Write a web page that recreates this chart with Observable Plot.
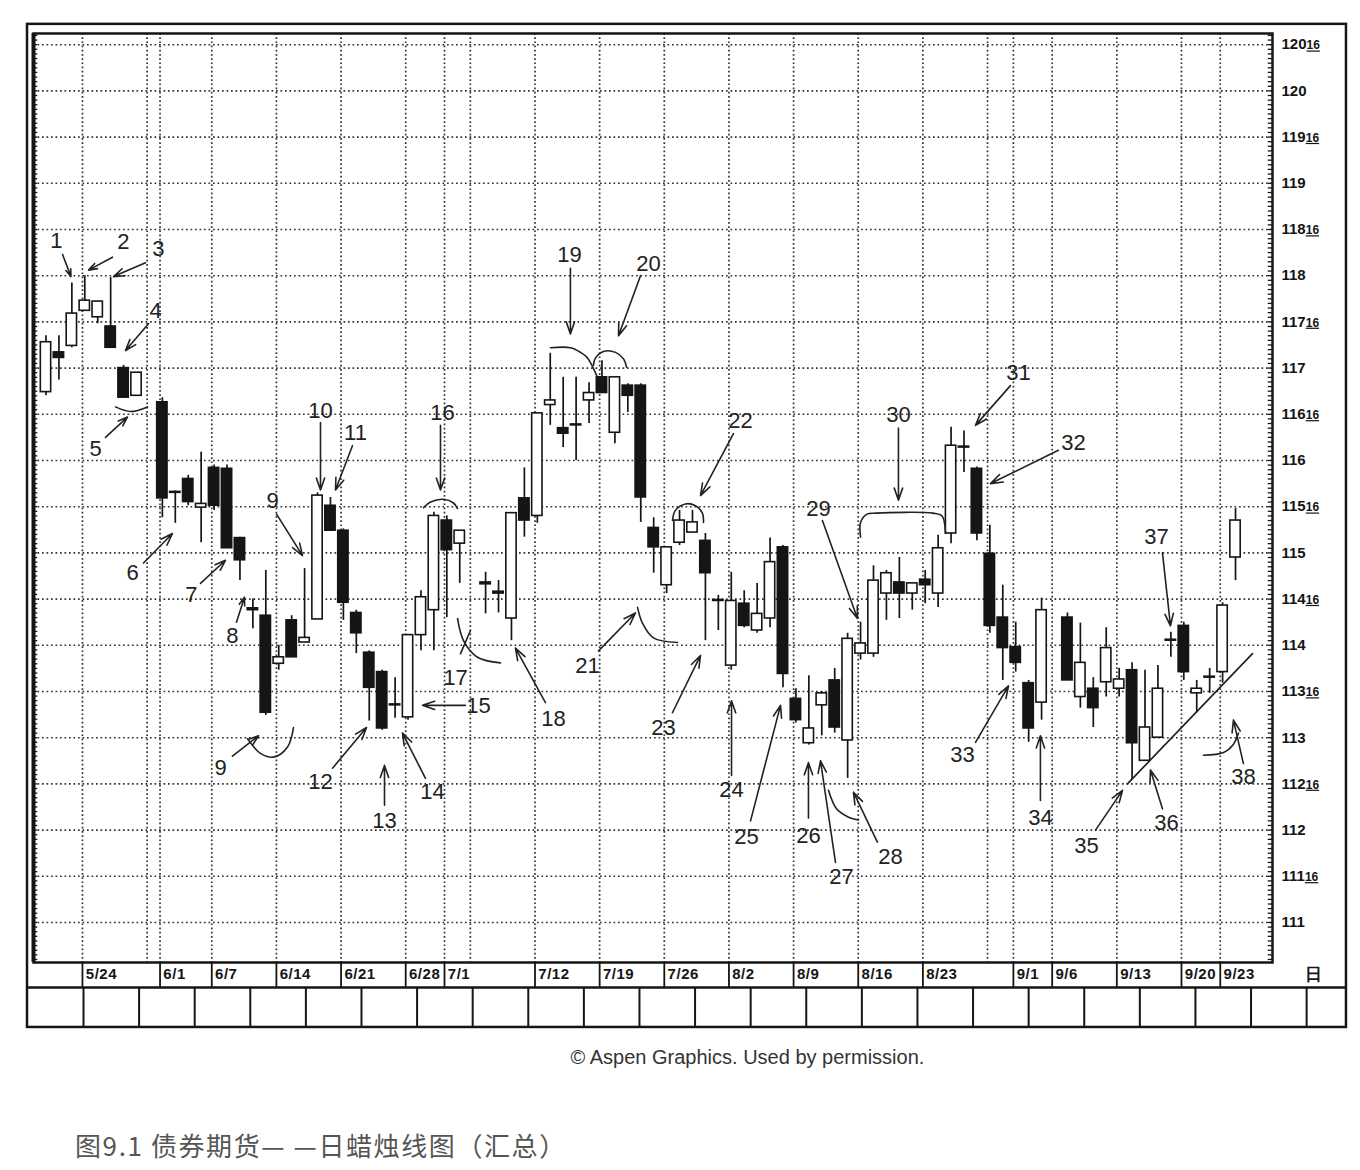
<!DOCTYPE html>
<html><head><meta charset="utf-8">
<script src="https://cdn.jsdelivr.net/npm/d3@7"></script>
<script src="https://cdn.jsdelivr.net/npm/@observablehq/plot@0.6"></script>
<style>
body{margin:0;background:#fff;}
#chart{position:absolute;left:0;top:0;}
#caption{position:absolute;left:75px;top:1129px;font-size:26px;line-height:1.2;letter-spacing:1.6px;font-family:"Noto Sans CJK SC",sans-serif;color:#555;white-space:nowrap;}
</style></head><body>
<div id="chart"></div>
<div id="caption">图9.1 债券期货— —日蜡烛线图（汇总）</div>
<script>
// ---- candle data (1993, daily bond futures) ----
const dates = ["5/19","5/20","5/21","5/24","5/25","5/26","5/27","5/28","6/1","6/2","6/3","6/4","6/7","6/8","6/9","6/10","6/11","6/14","6/15","6/16","6/17","6/18","6/21","6/22","6/23","6/24","6/25","6/28","6/29","6/30","7/1","7/2","7/6","7/7","7/8","7/9","7/12","7/13","7/14","7/15","7/16","7/19","7/20","7/21","7/22","7/23","7/26","7/27","7/28","7/29","7/30","8/2","8/3","8/4","8/5","8/6","8/9","8/10","8/11","8/12","8/13","8/16","8/17","8/18","8/19","8/20","8/23","8/24","8/25","8/26","8/27","8/30","8/31","9/1","9/2","9/3","9/7","9/8","9/9","9/10","9/13","9/14","9/15","9/16","9/17","9/20","9/21","9/22","9/23","9/24"];
const open  = [116.74,117.17,117.24,117.62,117.55,117.45,117.00,116.70,116.63,115.66,115.80,115.49,115.92,115.91,115.16,114.40,114.32,113.80,114.27,114.03,114.28,115.51,115.24,114.35,113.92,113.71,113.36,113.22,114.11,114.38,115.35,115.10,114.68,114.58,114.29,115.59,115.40,116.60,116.35,116.39,116.65,116.90,116.30,116.81,116.81,115.27,114.65,115.11,115.22,115.13,114.49,113.78,114.45,114.16,114.29,115.06,113.42,112.94,113.35,113.62,112.97,113.91,113.91,114.56,114.68,114.56,114.71,114.56,115.21,116.15,115.91,114.99,114.30,113.98,113.59,113.38,114.30,113.44,113.53,113.60,113.53,113.73,112.75,113.00,114.06,114.21,113.48,113.65,113.71,114.95];
const high  = [117.35,117.35,117.92,118.00,117.72,117.98,117.03,116.95,116.68,115.67,115.84,116.09,115.95,115.95,115.17,114.50,114.81,114.00,114.32,114.83,115.65,115.60,115.26,114.38,113.94,113.73,113.65,114.11,114.59,115.44,115.40,115.24,114.79,114.70,115.43,115.92,116.51,117.16,116.90,116.90,116.84,117.08,116.90,116.83,116.83,115.38,115.06,115.46,115.46,115.21,114.54,114.79,114.59,114.67,115.16,115.08,113.53,113.67,113.50,113.75,114.13,114.25,114.86,114.81,114.95,114.67,114.81,115.19,116.36,116.32,115.93,115.30,114.65,114.25,113.62,114.51,114.35,114.24,113.65,114.19,113.75,113.81,113.73,113.78,114.14,114.25,113.62,113.75,114.46,115.48];
const low   = [116.70,116.87,117.22,117.62,117.48,117.22,116.68,116.70,115.38,115.32,115.51,115.11,115.46,115.05,114.70,114.18,113.24,113.73,113.87,114.03,114.28,115.24,114.27,113.91,113.18,113.08,113.21,113.19,113.94,113.94,114.30,114.67,114.34,114.35,114.05,115.17,115.32,116.38,116.14,116.00,116.40,116.73,116.18,116.52,115.33,114.78,114.56,115.08,115.22,114.05,114.16,113.73,114.19,114.13,114.19,113.54,113.16,112.92,113.02,113.05,112.56,113.84,113.87,114.27,114.29,114.38,114.45,114.41,115.10,115.87,115.13,114.13,113.62,113.71,112.95,113.19,113.62,113.32,113.11,113.44,113.44,112.54,112.75,113.00,113.87,113.62,113.27,113.48,113.59,114.70];
const close = [117.28,117.11,117.59,117.73,117.72,117.22,116.68,116.95,115.59,115.65,115.55,115.53,115.51,115.05,114.92,114.38,113.27,113.87,113.87,114.08,115.62,115.24,114.46,114.13,113.54,113.10,113.35,114.11,114.52,115.40,115.03,115.24,114.66,114.56,115.43,115.35,116.51,116.65,116.29,116.38,116.73,116.73,116.90,116.70,115.60,115.06,115.06,115.35,115.33,114.78,114.48,114.48,114.21,114.34,114.90,113.69,113.19,113.10,113.48,113.11,114.07,114.02,114.70,114.78,114.56,114.67,114.65,115.05,116.16,116.14,115.21,114.21,113.97,113.81,113.10,114.38,113.62,113.81,113.32,113.97,113.63,112.94,113.11,113.53,114.05,113.71,113.53,113.66,114.43,115.35];

// ---- axis labels ----
const dateLabels = ["5/24","6/1","6/7","6/14","6/21","6/28","7/1","7/12","7/19","7/26","8/2","8/9","8/16","8/23","9/1","9/6","9/13","9/20","9/23"];
const weekStarts = ["5/24","5/31","6/7","6/14","6/21","6/28","7/5","7/12","7/19","7/26","8/2","8/9","8/16","8/23","8/30","9/6","9/13","9/20"];
const priceTicks = [111,111.5,112,112.5,113,113.5,114,114.5,115,115.5,116,116.5,117,117.5,118,118.5,119,119.5,120,120.5];

// ---- annotations (in slot / price units) ----
const noteText = ["1","2","3","4","5","6","7","8","9","9","10","11","12","13","14","15","16","17","18","19","20","21","22","23","24","25","26","27","28","29","30","31","32","33","34","35","36","37","38"];
const noteX = [0.81,5.99,8.70,8.47,3.83,6.69,11.25,14.42,17.52,13.50,21.23,23.94,21.23,26.18,29.89,33.45,30.66,31.67,39.25,40.49,46.60,41.88,53.71,47.76,53.02,54.18,58.97,61.52,65.31,59.74,65.93,75.21,79.47,70.88,76.91,80.47,86.66,85.88,92.61];
const noteY = [118.38,118.37,118.29,117.62,116.13,114.78,114.55,114.10,115.56,112.67,116.54,116.30,112.52,112.10,112.41,113.34,116.51,113.65,113.20,118.22,118.13,113.78,116.43,113.11,112.43,111.93,111.94,111.49,111.71,115.48,116.49,116.95,116.19,112.81,112.13,111.83,112.08,115.17,112.58];
const arrowFrom = [[1.28,118.23],[5.14,118.20],[7.70,118.14],[7.93,117.48],[4.60,116.25],[7.54,114.89],[11.95,114.67],[14.73,114.25],[17.83,115.42],[14.42,112.80],[21.23,116.41],[23.70,116.16],[22.16,112.67],[26.18,112.27],[29.35,112.56],[32.44,113.35],[30.51,116.38],[38.63,113.38],[40.56,118.08],[45.98,118.00],[42.73,113.94],[53.17,116.29],[48.45,113.27],[53.02,112.59],[54.49,112.10],[58.97,112.13],[61.06,111.65],[64.30,111.87],[60.05,115.35],[65.93,116.35],[74.59,116.81],[78.30,116.11],[71.89,112.95],[76.91,112.32],[81.17,112.00],[86.35,112.23],[86.35,115.00],[92.61,112.72]];
const arrowTo = [[1.93,117.99],[3.29,118.06],[5.22,117.99],[6.15,117.19],[6.30,116.47],[9.78,115.21],[13.88,114.92],[15.35,114.52],[19.84,114.97],[16.44,113.02],[21.23,115.68],[22.39,115.68],[24.79,113.11],[26.18,112.70],[27.57,113.05],[29.12,113.35],[30.51,115.68],[36.31,113.97],[40.56,117.37],[44.28,117.35],[45.59,114.35],[50.62,115.62],[50.62,113.89],[53.02,113.40],[56.81,113.35],[58.97,112.73],[59.90,112.75],[62.45,112.41],[62.76,114.29],[65.93,115.57],[71.89,116.38],[73.05,115.75],[74.44,113.56],[76.91,113.02],[83.26,112.43],[85.42,112.65],[86.97,114.21],[91.84,113.19]];
const curves = [
  [[5.38,116.58],[6.54,116.53],[7.85,116.58]],
  [[15.58,112.99],[16.59,112.83],[17.60,112.79],[18.68,112.90],[19.14,113.11]],
  [[29.20,115.49],[29.74,115.55],[30.74,115.58],[31.52,115.54],[31.83,115.48]],
  [[31.83,114.29],[32.29,114.05],[33.37,113.87],[35.15,113.81]],
  [[32.06,113.91],[32.83,114.16]],
  [[39.02,117.22],[40.56,117.22],[41.34,117.17],[41.88,117.11],[42.65,116.90]],
  [[42.34,117.03],[42.50,117.11],[43.12,117.18],[44.05,117.17],[44.67,117.10],[44.90,117.01]],
  [[45.75,114.41],[46.13,114.24],[46.98,114.08],[48.84,114.03]],
  [[48.45,115.35],[48.68,115.46],[49.46,115.53],[50.23,115.51],[50.77,115.43],[50.85,115.33]],
  [[60.52,112.43],[61.14,112.23],[62.07,112.14],[62.84,112.11]],
  [[63.0,115.17],[63.0,115.33],[63.5,115.42],[64.2,115.43],[68.6,115.43],[69.3,115.40],[69.57,115.21]],
  [[89.52,112.81],[91.07,112.84],[91.84,112.93],[92.23,113.05]]
];
const trendFrom = [83.64,112.50], trendTo = [93.31,113.91];

// ---- helpers ----
const START = new Date(1993, 4, 19);
function slotOf(md) {
  const [m, d] = md.split("/").map(Number);
  const t = new Date(1993, m - 1, d);
  let n = 0;
  for (let x = new Date(START); x < t; x.setDate(x.getDate() + 1)) {
    const w = x.getDay();
    if (w !== 0 && w !== 6) n++;
  }
  return n;
}
const candles = dates.map((d, i) => ({slot: slotOf(d), o: open[i], h: high[i], l: low[i], c: close[i]}));
const labelSlots = dateLabels.map(slotOf);
const labelOf = new Map(dateLabels.map(d => [slotOf(d), d]));
const gridSlots = Array.from(new Set([...weekStarts, ...dateLabels].map(slotOf))).sort((a, b) => a - b);
const rulerTicks = d3.range(110.6, 120.62, 0.05);
const boxSlots = d3.range(0, 23).map(k => 2.9 + 4.3 * k);
const notes = noteText.map((t, i) => ({t, x: noteX[i], y: noteY[i]}));
const arrows = arrowFrom.map((a, i) => ({x1: a[0], y1: a[1], x2: arrowTo[i][0], y2: arrowTo[i][1]}));
const curvePts = curves.flatMap((pts, k) => pts.map(([x, y]) => ({k, x, y})));

const XMIN = -0.967, XMAX = 94.86, YMIN = 110.567, YMAX = 120.621;
const OX1 = -1.43, OX2 = 100.58, OY_TOP = 120.72, OY_BOT = 109.864, ROW = 110.297;
const INK = "#151515";
const SANS = "'Liberation Sans',Arial,sans-serif";
const HW = 0.4;

const chart = Plot.plot({
  width: 1360, height: 1080,
  marginLeft: 33, marginRight: 88, marginTop: 33, marginBottom: 118,
  x: {domain: [XMIN, XMAX]},
  y: {domain: [YMIN, YMAX]},
  style: {background: "white", overflow: "visible"},
  marks: [
    // grid
    Plot.ruleY(priceTicks, {stroke: "#333", strokeWidth: 1.6, strokeDasharray: "1.7,2.8"}),
    Plot.ruleX(gridSlots, {x: d => d - 0.18, stroke: "#333", strokeWidth: 1.7, strokeDasharray: "1.7,2.5"}),
    // wicks
    Plot.ruleX(candles, {x: "slot", y1: "l", y2: "h", stroke: INK, strokeWidth: 1.7}),
    // bodies
    Plot.rect(candles, {
      x1: d => d.slot - HW, x2: d => d.slot + HW,
      y1: d => Math.min(d.o, d.c), y2: d => Math.max(d.o, d.c),
      fill: d => d.c >= d.o ? "white" : INK, stroke: INK, strokeWidth: 1.6
    }),
    // annotations
    Plot.line(curvePts, {x: "x", y: "y", z: "k", curve: "catmull-rom", stroke: "#222", strokeWidth: 1.6}),
    Plot.line([trendFrom, trendTo], {x: d => d[0], y: d => d[1], stroke: "#222", strokeWidth: 1.7}),
    Plot.arrow(arrows, {x1: "x1", y1: "y1", x2: "x2", y2: "y2", stroke: "#222", strokeWidth: 1.6, headLength: 12, headAngle: 38}),
    Plot.text(notes, {x: "x", y: "y", text: "t", fontSize: 22, fill: "#222", fontFamily: SANS}),
    // ruler ticks on the frame edges
    Plot.ruleY(rulerTicks, {x1: XMIN, x2: XMIN + 0.33, stroke: INK, strokeWidth: 1.3}),
    Plot.ruleY(rulerTicks, {x1: XMAX - 0.33, x2: XMAX, stroke: INK, strokeWidth: 1.3}),
    Plot.ruleX([XMIN], {y1: YMIN, y2: YMAX, stroke: INK, strokeWidth: 4}),
    Plot.frame({stroke: INK, strokeWidth: 2.5}),
    // outer frame, date row and box row
    Plot.rect([0], {x1: OX1, x2: OX2, y1: OY_BOT, y2: OY_TOP, fill: "none", stroke: INK, strokeWidth: 2.5}),
    Plot.ruleY([ROW], {x1: OX1, x2: OX2, stroke: INK, strokeWidth: 2.5}),
    Plot.ruleX(labelSlots, {x: d => d - 0.18, y1: ROW, y2: YMIN, stroke: INK, strokeWidth: 1.8}),
    Plot.ruleX(boxSlots, {y1: OY_BOT, y2: ROW, stroke: INK, strokeWidth: 2}),
    Plot.axisX(labelSlots, {anchor: "bottom", tickSize: 0, tickPadding: 6, textAnchor: "start", dx: 1,
      tickFormat: s => labelOf.get(s), fontSize: 15, fontWeight: "bold", fontFamily: SANS, fill: INK}),
    Plot.axisY(priceTicks, {anchor: "right", tickSize: 0, tickPadding: 9,
      tickFormat: d => Number.isInteger(d) ? String(d) : Math.floor(d) + "|16", fontSize: 15, fontWeight: "bold", fontFamily: SANS, fill: INK}),
    Plot.text(["日"], {x: 98.03, y: 110.437, text: d => d, fontSize: 17, fontWeight: "bold", fill: INK}),
    Plot.text(["© Aspen Graphics. Used by permission."], {x: 54.25, y: 109.535, text: d => d, fontSize: 20, fill: "#333", fontFamily: SANS})
  ]
});

d3.select(chart).selectAll("g[aria-label='x-axis tick label'] text").attr("letter-spacing", "0.5px");
d3.select(chart).selectAll("g[aria-label='y-axis tick label'] text").each(function () {
  const t = this.textContent;
  if (t.includes("|")) {
    const [a, b] = t.split("|");
    const sel = d3.select(this);
    sel.text(a);
    sel.append("tspan").attr("font-size", 12).attr("text-decoration", "underline").text(b);
  }
});
document.getElementById("chart").appendChild(chart);
</script>
</body></html>
